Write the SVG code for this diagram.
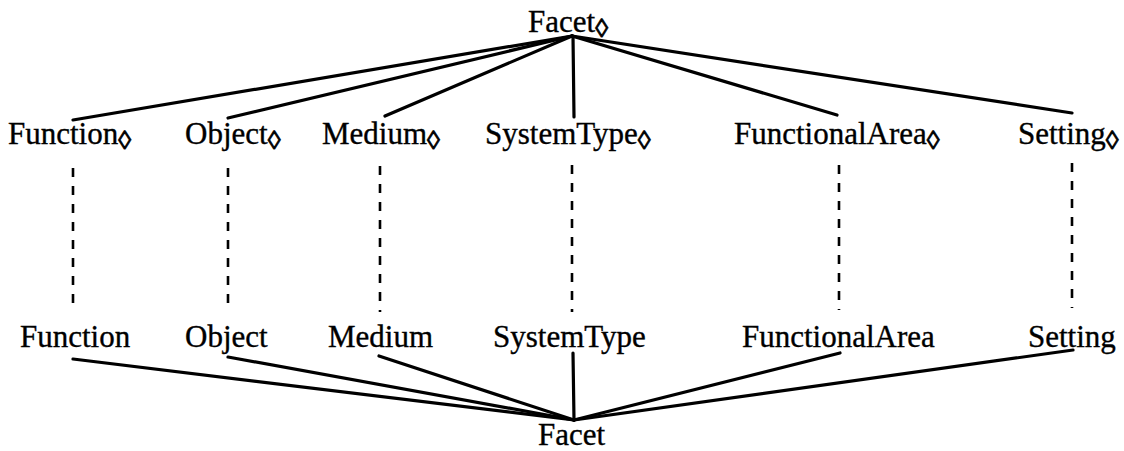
<svg xmlns="http://www.w3.org/2000/svg" width="1124" height="451" viewBox="0 0 1124 451">
<style>
text{font-family:"Liberation Serif","Times New Roman",serif;font-size:31px;fill:#000;stroke:#000;stroke-width:0.35}
.sub{font-size:26px;stroke-width:0.8}
.edge{stroke:#000;stroke-width:3.2;fill:none;stroke-linecap:round}
.dash{stroke:#000;stroke-width:2.6;fill:none;stroke-dasharray:9 9}
</style>
<rect width="1124" height="451" fill="#fff"/>
<g id="connectors">
<line class="edge" x1="572" y1="36" x2="73" y2="120"/>
<line class="edge" x1="572" y1="36" x2="228" y2="118"/>
<line class="edge" x1="572" y1="36" x2="385" y2="116"/>
<line class="edge" x1="573" y1="36" x2="574" y2="117"/>
<line class="edge" x1="572" y1="36" x2="837" y2="115"/>
<line class="edge" x1="572" y1="36" x2="1072" y2="113"/>
<line class="dash" x1="73" y1="168" x2="73" y2="312"/>
<line class="dash" x1="228" y1="168" x2="228" y2="312"/>
<line class="dash" x1="380" y1="166" x2="380" y2="312"/>
<line class="dash" x1="572" y1="165" x2="572" y2="312"/>
<line class="dash" x1="839" y1="165" x2="839" y2="310"/>
<line class="dash" x1="1072" y1="163" x2="1072" y2="308"/>
<line class="edge" x1="73" y1="359" x2="574" y2="420"/>
<line class="edge" x1="228" y1="357" x2="574" y2="420"/>
<line class="edge" x1="379" y1="356" x2="574" y2="420"/>
<line class="edge" x1="573" y1="353" x2="574" y2="420"/>
<line class="edge" x1="840" y1="353" x2="574" y2="420"/>
<line class="edge" x1="1073" y1="350" x2="574" y2="420"/>
</g>
<g id="facet-top"><text x="528" y="32">Facet<tspan class="sub" dy="5">◊</tspan></text></g>
<g id="function-top"><text x="8" y="144">Function<tspan class="sub" dy="5">◊</tspan></text></g>
<g id="object-top"><text x="185" y="144">Object<tspan class="sub" dy="5">◊</tspan></text></g>
<g id="medium-top"><text x="322" y="144">Medium<tspan class="sub" dy="5">◊</tspan></text></g>
<g id="systemtype-top"><text x="485" y="144">SystemType<tspan class="sub" dy="5">◊</tspan></text></g>
<g id="functionalarea-top"><text x="734" y="144">FunctionalArea<tspan class="sub" dy="5">◊</tspan></text></g>
<g id="setting-top"><text x="1018" y="144">Setting<tspan class="sub" dy="5">◊</tspan></text></g>
<g id="function"><text x="20" y="347">Function</text></g>
<g id="object"><text x="185" y="347">Object</text></g>
<g id="medium"><text x="328" y="347">Medium</text></g>
<g id="systemtype"><text x="493" y="347">SystemType</text></g>
<g id="functionalarea"><text x="742" y="347">FunctionalArea</text></g>
<g id="setting"><text x="1028" y="347">Setting</text></g>
<g id="facet"><text x="538" y="445">Facet</text></g>
</svg>
